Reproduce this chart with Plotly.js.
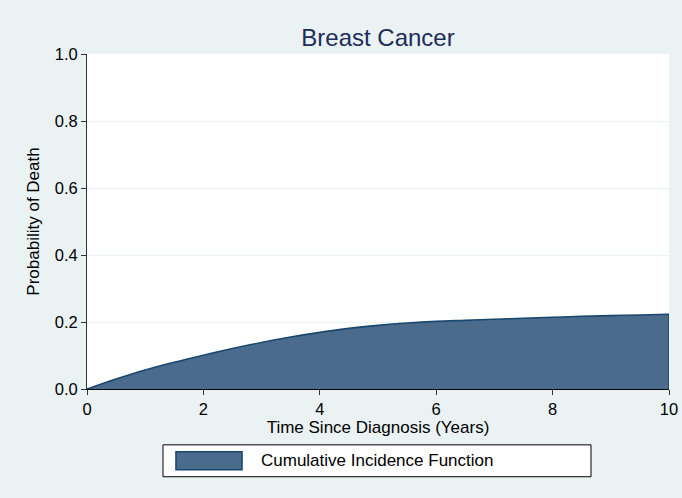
<!DOCTYPE html>
<html>
<head>
<meta charset="utf-8">
<script src="https://cdn.plot.ly/plotly-3.0.1.min.js"></script>
<style>html,body{margin:0;padding:0;background:#eaf2f3;}#chart{width:682px;height:498px;}</style>
</head>
<body>
<div id="chart"></div>
<script>
// Data
var timeYears = [0, 0.5, 1, 1.5, 2, 2.5, 3, 3.5, 4, 4.5, 5, 5.5, 6, 6.5, 7, 7.5, 8, 8.5, 9, 9.5, 10];
var cifValues = [0, 0.030, 0.057, 0.080, 0.101, 0.121, 0.139, 0.155, 0.169, 0.181, 0.190, 0.197, 0.202, 0.205, 0.208, 0.211, 0.214, 0.217, 0.219, 0.221, 0.223];
var xTicks = [0, 2, 4, 6, 8, 10];
var yTicks = [0, 0.2, 0.4, 0.6, 0.8, 1.0];
var seriesName = "Cumulative Incidence Function";
var chartTitle = "Breast Cancer";
var xTitle = "Time Since Diagnosis (Years)";
var yTitle = "Probability of Death";

var lastT = timeYears[timeYears.length - 1];
var lastV = cifValues[cifValues.length - 1];

var font = "Liberation Sans, Arial, Helvetica, sans-serif";
var fillCol = "#4b6b8c", lineCol = "#1a476f";

var areaTrace = {
  x: timeYears, y: cifValues, type: "scatter", mode: "lines",
  fill: "tozeroy", fillcolor: fillCol,
  line: {color: lineCol, width: 1.6, shape: "spline", smoothing: 1},
  name: seriesName, showlegend: false, hoverinfo: "x+y"
};
// right-hand closing edge of the filled area
var edgeTrace = {
  x: [lastT, lastT], y: [0, lastV], type: "scatter", mode: "lines",
  line: {color: lineCol, width: 1.6}, showlegend: false, hoverinfo: "skip"
};

// legend frame geometry (paper coords)
var L = {x0: 0.1306, x1: 0.866, y0: -0.2619, y1: -0.1667};
var S = {x0: 0.1529, x1: 0.2663, y0: -0.2411, y1: -0.1875};

var layout = {
  width: 682, height: 498,
  paper_bgcolor: "#eaf2f3", plot_bgcolor: "#ffffff",
  margin: {l: 87, r: 13, t: 54, b: 109},
  font: {family: font, size: 17, color: "#000000"},
  title: {text: chartTitle, x: 0.5, xref: "paper", xanchor: "center",
          y: 0.924, yref: "container", yanchor: "middle",
          font: {family: font, size: 24, color: "#1e2d5a"}},
  showlegend: false,
  xaxis: {
    range: [0, 10], tickvals: xTicks, ticktext: xTicks.map(String),
    showgrid: false, zeroline: false,
    showline: true, linecolor: "#000000", linewidth: 1,
    ticks: "outside", ticklen: 5, tickcolor: "#333333",
    tickfont: {family: font, size: 16.5, color: "#000000"},
    title: {text: xTitle, standoff: 2, font: {family: font, size: 17, color: "#000000"}},
    automargin: false, fixedrange: true
  },
  yaxis: {
    range: [0, 1], tickvals: yTicks, ticktext: yTicks.map(function(v){return v.toFixed(1);}),
    showgrid: true, gridcolor: "#eaf2f3", gridwidth: 1, zeroline: false,
    showline: true, linecolor: "#333333", linewidth: 1,
    ticks: "outside", ticklen: 5, tickcolor: "#333333",
    tickfont: {family: font, size: 16.5, color: "#000000"},
    title: {text: yTitle, standoff: 10, font: {family: font, size: 17, color: "#000000"}},
    automargin: false, fixedrange: true
  },
  shapes: [
    {type: "rect", xref: "paper", yref: "paper", x0: L.x0, x1: L.x1, y0: L.y0, y1: L.y1,
     fillcolor: "#ffffff", line: {color: "#000000", width: 1}},
    {type: "rect", xref: "paper", yref: "paper", x0: S.x0, x1: S.x1, y0: S.y0, y1: S.y1,
     fillcolor: fillCol, line: {color: lineCol, width: 1.6}}
  ],
  annotations: [
    {text: seriesName, xref: "paper", yref: "paper", x: 0.2955, y: (S.y0 + S.y1) / 2,
     xanchor: "left", yanchor: "middle", showarrow: false,
     font: {family: font, size: 17, color: "#000000"}}
  ]
};

Plotly.newPlot("chart", [areaTrace, edgeTrace], layout, {displayModeBar: false});
</script>
</body>
</html>
